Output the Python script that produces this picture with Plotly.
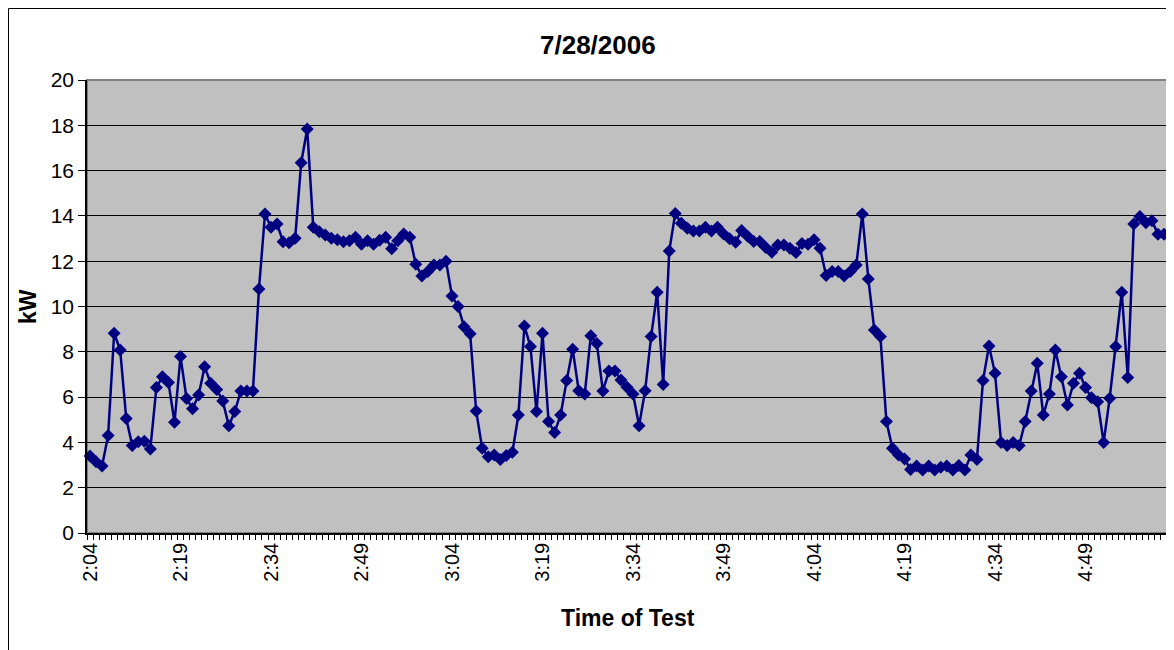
import plotly.graph_objects as go

# ---- data ----
start_hour, start_minute = 2, 4
kw_values = [
    3.40, 3.15, 2.96, 4.30, 8.82, 8.08, 5.06, 3.86, 4.03, 4.05,
    3.71, 6.42, 6.90, 6.65, 4.89, 7.79, 5.94, 5.49, 6.09, 7.34,
    6.61, 6.34, 5.83, 4.74, 5.36, 6.27, 6.27, 6.27, 10.77, 14.08,
    13.50, 13.64, 12.86, 12.82, 13.01, 16.35, 17.84, 13.50, 13.30, 13.16,
    13.01, 12.95, 12.86, 12.90, 13.06, 12.75, 12.90, 12.75, 12.92, 13.06,
    12.55, 12.90, 13.20, 13.06, 11.86, 11.35, 11.54, 11.83, 11.83, 12.00,
    10.46, 10.00, 9.11, 8.80, 5.39, 3.74, 3.37, 3.44, 3.25, 3.42,
    3.56, 5.21, 9.14, 8.23, 5.36, 8.82, 4.92, 4.44, 5.21, 6.73,
    8.11, 6.28, 6.14, 8.71, 8.37, 6.27, 7.15, 7.15, 6.75, 6.43,
    6.14, 4.74, 6.28, 8.67, 10.63, 6.56, 12.45, 14.11, 13.67, 13.45,
    13.33, 13.33, 13.50, 13.33, 13.50, 13.20, 12.99, 12.84, 13.36, 13.10,
    12.87, 12.87, 12.60, 12.40, 12.72, 12.72, 12.57, 12.38, 12.78, 12.75,
    12.95, 12.57, 11.37, 11.54, 11.55, 11.35, 11.55, 11.83, 14.08, 11.21,
    8.96, 8.68, 4.92, 3.74, 3.44, 3.27, 2.80, 2.96, 2.78, 2.96,
    2.78, 2.90, 2.96, 2.78, 2.98, 2.78, 3.44, 3.25, 6.73, 8.26,
    7.05, 4.00, 3.86, 4.00, 3.86, 4.92, 6.27, 7.49, 5.21, 6.14,
    8.08, 6.90, 5.65, 6.61, 7.05, 6.42, 5.97, 5.80, 4.00, 5.95,
    8.23, 10.63, 6.86, 13.64, 13.97, 13.70, 13.79, 13.19, 13.19,
]
tick_labels = ["2:04", "2:19", "2:34", "2:49", "3:04", "3:19",
               "3:34", "3:49", "4:04", "4:19", "4:34", "4:49"]
y_ticks = [0, 2, 4, 6, 8, 10, 12, 14, 16, 18, 20]

times = []
for i in range(len(kw_values)):
    m = start_hour * 60 + start_minute + i
    times.append(f"{m // 60}:{m % 60:02d}")

ticktext = [t if t in tick_labels else "" for t in times]

FONT = "Liberation Sans, Arial, sans-serif"
# the page body adds an 8px offset; figure coordinates = screen - 8
OFF = 8
W, H = 1174 - OFF, 650 - OFF
L, R, T, B = 87 - OFF, 7, 80 - OFF, 117
pw, ph = W - L - R, H - T - B


def px(xs):  # screen x -> paper x
    return (xs - OFF - L) / pw


def py(ys):  # screen y -> paper y
    return (H - B - (ys - OFF)) / ph


fig = go.Figure()
fig.add_trace(go.Scatter(
    x=times, y=kw_values, mode="lines+markers",
    line=dict(color="#000080", width=2.5),
    marker=dict(symbol="diamond", size=10, color="#000080"),
    cliponaxis=False, showlegend=False,
))

fig.update_layout(
    width=W, height=H, autosize=False,
    margin=dict(l=L, r=R, t=T, b=B, pad=0),
    paper_bgcolor="white", plot_bgcolor="#C0C0C0",
    font=dict(family=FONT, color="black"),
    xaxis=dict(
        type="category", range=[-0.5, len(times) - 0.5],
        tickmode="array", tickvals=times, ticktext=ticktext,
        tickson="boundaries", ticks="outside", ticklen=5, tickwidth=1,
        tickcolor="black", tickangle=-90, tickfont=dict(size=20),
        showgrid=False, showline=True, linecolor="black", linewidth=1.5,
        zeroline=False,
    ),
    yaxis=dict(
        range=[0, 20], tickvals=y_ticks, ticks="outside", ticklen=7,
        tickcolor="black", tickfont=dict(size=21),
        showgrid=True, gridcolor="black", gridwidth=1,
        showline=True, linecolor="black", linewidth=1.5, zeroline=False,
    ),
    shapes=[
        dict(type="rect", xref="paper", yref="paper", x0=0, x1=1, y0=0, y1=1,
             line=dict(color="#808080", width=2), layer="below"),
        dict(type="rect", xref="paper", yref="paper",
             x0=px(8.5), x1=px(1200), y0=py(700), y1=py(8.5),
             line=dict(color="black", width=1)),
    ],
    annotations=[
        dict(text="<b>7/28/2006</b>", xref="paper", yref="paper",
             x=px(598), y=py(45), showarrow=False,
             xanchor="center", yanchor="middle", font=dict(size=26)),
        dict(text="<b>Time of Test</b>", xref="paper", yref="paper",
             x=px(628), y=py(618), showarrow=False,
             xanchor="center", yanchor="middle", font=dict(size=23)),
        dict(text="<b>kW</b>", xref="paper", yref="paper",
             x=px(28), y=py(307), showarrow=False,
             textangle=-90, xanchor="center", yanchor="middle",
             font=dict(size=23)),
    ],
)

fig.write_html("out.html")
